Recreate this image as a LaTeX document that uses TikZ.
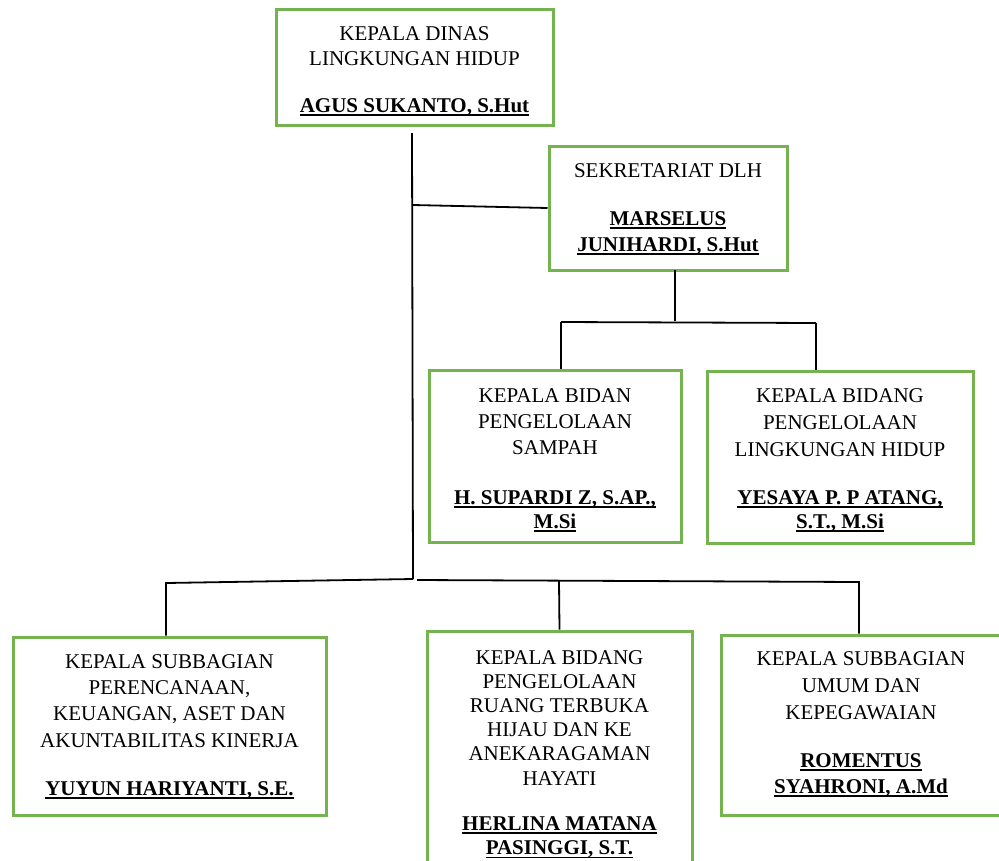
\documentclass[tikz,border=0pt]{standalone}
\usepackage{fontspec}
\setmainfont{Liberation Serif}
\definecolor{boxgreen}{RGB}{117,178,80}
\newsavebox\ulbox
\newcommand\nameul[1]{\sbox\ulbox{\bfseries #1}\rlap{\rule[-3.6pt]{\wd\ulbox}{1.6pt}}\usebox\ulbox}
\begin{document}
\begin{tikzpicture}[x=1pt,y=-1pt,
  orgbox/.style={draw=boxgreen, line width=3pt, inner sep=0pt},
  lbl/.style={align=center, anchor=north, inner sep=0pt},
  conn/.style={draw=black, line width=1.8pt}]
\useasboundingbox (0,0) rectangle (999,860);
% boxes
\node[orgbox, minimum width=277pt, minimum height=116pt] (b1) at (414.5,67) {};
\node[orgbox, minimum width=238pt, minimum height=124pt] (b2) at (668,208) {};
\node[orgbox, minimum width=252pt, minimum height=172pt] (b3) at (555,456) {};
\node[orgbox, minimum width=266pt, minimum height=172pt] (b4) at (840,457) {};
\node[orgbox, minimum width=313pt, minimum height=178pt] (b5) at (169.5,726) {};
\node[orgbox, minimum width=265pt, minimum height=269pt] (b6) at (559.5,765.5) {};
\node[orgbox, minimum width=280pt, minimum height=180pt] (b7) at (861,725) {};
% texts
\node[lbl, font=\fontsize{21}{25}\selectfont] (t1) at (414.5,26)
  {KEPALA DINAS\\LINGKUNGAN HIDUP\\[22pt]\nameul{AGUS SUKANTO, S.Hut}};
\node[lbl, font=\fontsize{21}{26}\selectfont] (t2) at (668,163)
  {SEKRETARIAT DLH\\[22pt]\nameul{MARSELUS}\\\nameul{JUNIHARDI, S.Hut}};
\node[lbl, font=\fontsize{21}{26}\selectfont] (t3) at (555,388)
  {KEPALA BIDAN\\PENGELOLAAN\\SAMPAH\\[24pt]\nameul{H. SUPARDI Z, S.AP.,}\\[-2pt]\nameul{M.Si}};
\node[lbl, font=\fontsize{21}{27}\selectfont] (t4) at (840,388)
  {KEPALA BIDANG\\PENGELOLAAN\\LINGKUNGAN HIDUP\\[21pt]\nameul{YESAYA P. P ATANG,}\\[-3pt]\nameul{S.T., M.Si}};
\node[lbl, font=\fontsize{21}{26.3}\selectfont] (t5) at (169.5,654)
  {KEPALA SUBBAGIAN\\PERENCANAAN,\\KEUANGAN, ASET DAN\\AKUNTABILITAS KINERJA\\[22pt]\nameul{YUYUN HARIYANTI, S.E.}};
\node[lbl, font=\fontsize{21}{24.2}\selectfont] (t6) at (559.5,650)
  {KEPALA BIDANG\\PENGELOLAAN\\RUANG TERBUKA\\HIJAU DAN KE\\ANEKARAGAMAN\\HAYATI\\[21pt]\nameul{HERLINA MATANA}\\\nameul{PASINGGI, S.T.}};
\node[lbl, font=\fontsize{21}{27}\selectfont] (t7) at (861,651)
  {KEPALA SUBBAGIAN\\UMUM DAN\\KEPEGAWAIAN\\[21pt]\nameul{ROMENTUS}\\[-1pt]\nameul{SYAHRONI, A.Md}};
% junction coordinates
\coordinate (k0) at (412,133);
\coordinate (k1) at (413,205);
\coordinate (k2) at (413,579);
\coordinate (s0) at (675,270);
\coordinate (s1) at (675,321);
\coordinate (sL) at (561,322);
\coordinate (sR) at (816,323);
\coordinate (bL) at (166,583);
\coordinate (bM0) at (417,580);
\coordinate (bM) at (559,581);
\coordinate (bR) at (859,582);
% connectors
\draw[conn] (k0) -- (k2);
\draw[conn] (k1) -- (b2.west);
\draw[conn] (s0) -- (s1);
\draw[conn] (sL) -- (sR);
\draw[conn] (sL) -- (sL |- b3.north);
\draw[conn] (sR) -- (sR |- b4.north);
\draw[conn] (k2) -- (bL) -- (bL |- b5.north);
\draw[conn] (bM0) -- (bR) -- (bR |- b7.north);
\draw[conn] (bM) -- (b6.north);
\end{tikzpicture}
\end{document}
